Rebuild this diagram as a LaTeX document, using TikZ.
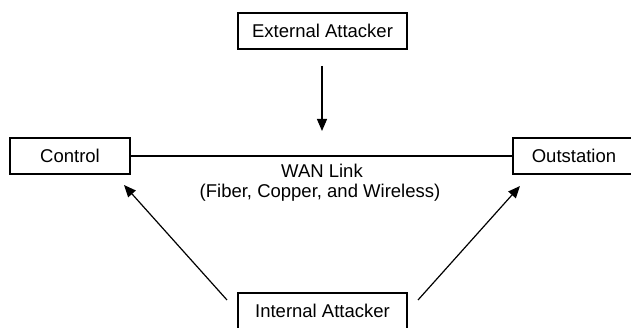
\documentclass[tikz,border=0pt]{standalone}
\usepackage{fontspec}
\setmainfont{Liberation Sans}
\usetikzlibrary{arrows.meta}
\begin{document}
\begin{tikzpicture}[x=1pt,y=1pt,
  box/.style={draw=black, line width=1.3pt, minimum height=36pt, inner sep=0pt,
    font=\fontsize{18.5}{20.5}\selectfont},
  lbl/.style={inner sep=0pt, anchor=base, font=\fontsize{18.5}{20.5}\selectfont},
  arr/.style={line width=1.2pt, -{Triangle[length=12pt,width=10pt]}},
  link/.style={line width=1.2pt}]
\useasboundingbox (0,0) rectangle (631,328);
\node[box, minimum width=169pt] (ext) at (322.5,297) {External Attacker};
\node[box, minimum width=120pt] (ctl) at (70,172) {Control};
\node[box, minimum width=122pt] (out) at (574,172) {Outstation};
\node[box, minimum width=169pt] (int) at (322.5,17) {Internal Attacker};
\node[lbl] (wan1) at (322,150) {WAN Link};
\node[lbl] (wan2) at (320,130) {(Fiber, Copper, and Wireless)};
\draw[link] (ctl.east) -- (out.west);
\coordinate (extA) at (322,262);
\coordinate (extB) at (322,197);
\coordinate (inlA) at (227,28);
\coordinate (inlB) at (124,143);
\coordinate (inrA) at (418,28);
\coordinate (inrB) at (520,142);
\draw[arr] (extA) -- (extB);
\draw[arr] (inlA) -- (inlB);
\draw[arr] (inrA) -- (inrB);
\end{tikzpicture}
\end{document}
